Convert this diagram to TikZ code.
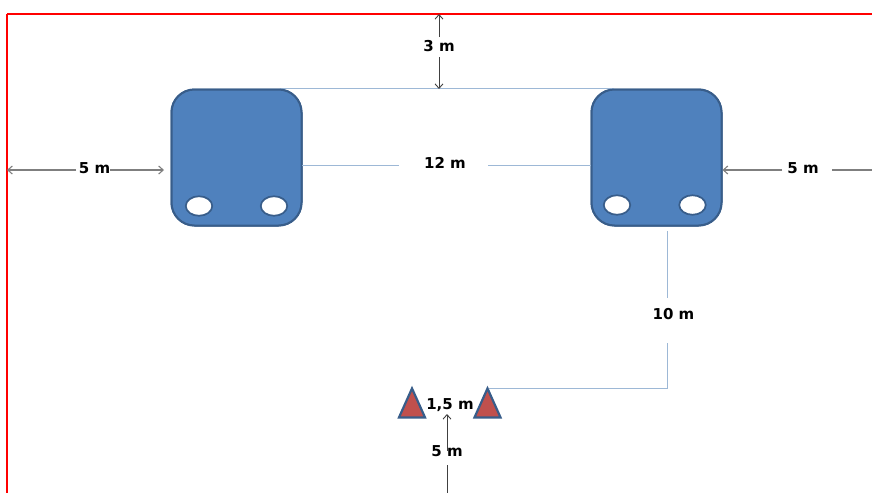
\documentclass[tikz,border=0pt]{standalone}
\usepackage{fontspec}
\setmainfont{DejaVu Sans}
\usetikzlibrary{arrows.meta,shapes.geometric,positioning}
\definecolor{boxfill}{HTML}{4F81BD}
\definecolor{boxline}{HTML}{385D8A}
\definecolor{redfill}{HTML}{C0504D}
\definecolor{linkblue}{HTML}{9DB8D6}
\definecolor{grayline}{HTML}{7F7F7F}
\definecolor{darkline}{HTML}{404040}
\tikzset{
  x=1pt,y=-1pt,
  truck/.style={draw=boxline,line width=2pt,fill=boxfill,rounded corners=23pt,minimum width=130pt,minimum height=136pt,inner sep=0pt},
  wheel/.style={ellipse,draw=boxline,line width=1.7pt,fill=white,minimum width=26.5pt,minimum height=19.5pt,inner sep=0pt},
  cone/.style={isosceles triangle,isosceles triangle stretches,shape border rotate=90,draw=boxline,line width=2.2pt,fill=redfill,minimum width=26pt,minimum height=29pt,inner sep=0pt},
  lab/.style={font=\bfseries\fontsize{15}{17}\selectfont,inner sep=1pt,text=black},
  tip/.style={-{Straight Barb[length=4.5pt,width=8pt]}},
  link/.style={draw=linkblue,line width=1pt},
  gray dim/.style={draw=grayline,line width=1.1pt},
  dark dim/.style={draw=darkline,line width=0.9pt},
  frame/.style={draw=red}
}
\begin{document}
\begin{tikzpicture}
\useasboundingbox (0,0) rectangle (872,493);
\fill[white] (0,0) rectangle (872,493);
\coordinate (topleft) at (7,14);
\coordinate (topright) at (872,14);
\coordinate (botleft) at (7,493);
\draw[frame,line width=1.3pt] (topleft) -- (topright);
\draw[frame,line width=2pt] (topleft) -- (botleft);

\coordinate (a3top) at (439,14);
\coordinate (a3bot) at (439,89);
\coordinate (a3m) at (439,37);
\coordinate (a3n) at (439,57);
\coordinate (l5a) at (7,170);
\coordinate (l5b) at (164,170);
\coordinate (l5m) at (76,170);
\coordinate (l5n) at (110,170);
\coordinate (r5a) at (722.5,170);
\coordinate (r5b) at (782,170);
\coordinate (r5c) at (832,170);
\coordinate (r5d) at (872,170);
\coordinate (c12a) at (302,165);
\coordinate (c12b) at (399,165);
\coordinate (c12c) at (488,165);
\coordinate (c12d) at (591,165);
\coordinate (c10a) at (667,231);
\coordinate (c10b) at (667,298);
\coordinate (c10c) at (667,343);
\coordinate (c10d) at (667,388);
\coordinate (c10e) at (489,388);
\coordinate (b5a) at (447,414);
\coordinate (b5b) at (447,451);
\coordinate (b5c) at (447,465);
\coordinate (b5d) at (447,493);

\node[truck] (boxA) at (236.5,157.5) {};
\node[truck] (boxB) at (656.5,157.5) {};
\draw[link] ([xshift=-23pt]boxA.north east) -- ([xshift=23pt]boxB.north west);
\node[truck] at (boxA) {};
\node[truck] at (boxB) {};
\node[wheel] (wa1) at (199,206) {};
\node[wheel] (wa2) at (274,206) {};
\node[wheel] (wb1) at (617,205) {};
\node[wheel] (wb2) at (692.5,205) {};
\node[cone] (coneA) at (412,409) {};
\node[cone] (coneB) at (487.5,409) {};

\draw[link] (c12a) -- (c12b);
\draw[link] (c12c) -- (c12d);
\draw[link] (c10a) -- (c10b);
\draw[link] (c10c) -- (c10d) -- (c10e);

\draw[dark dim,tip] (a3m) -- (a3top);
\draw[dark dim,tip] (a3n) -- (a3bot);
\draw[gray dim,tip] (l5m) -- (l5a);
\draw[gray dim,tip] (l5n) -- (l5b);
\draw[gray dim,tip] (r5b) -- (r5a);
\draw[gray dim] (r5c) -- (r5d);
\draw[dark dim,tip] (b5b) -- (b5a);
\draw[dark dim] (b5c) -- (b5d);

\node[lab] (t3) at (439,46.5) {3 m};
\node[lab] (t12) at (445,162.5) {12 m};
\node[lab] (t5l) at (94.5,168) {5 m};
\node[lab] (t5r) at (803,168) {5 m};
\node[lab] (t10) at (673.5,314.5) {10 m};
\node[lab] (t15) at (450,405) {1,5 m};
\node[lab] (t5b) at (447,451.5) {5 m};
\end{tikzpicture}
\end{document}
